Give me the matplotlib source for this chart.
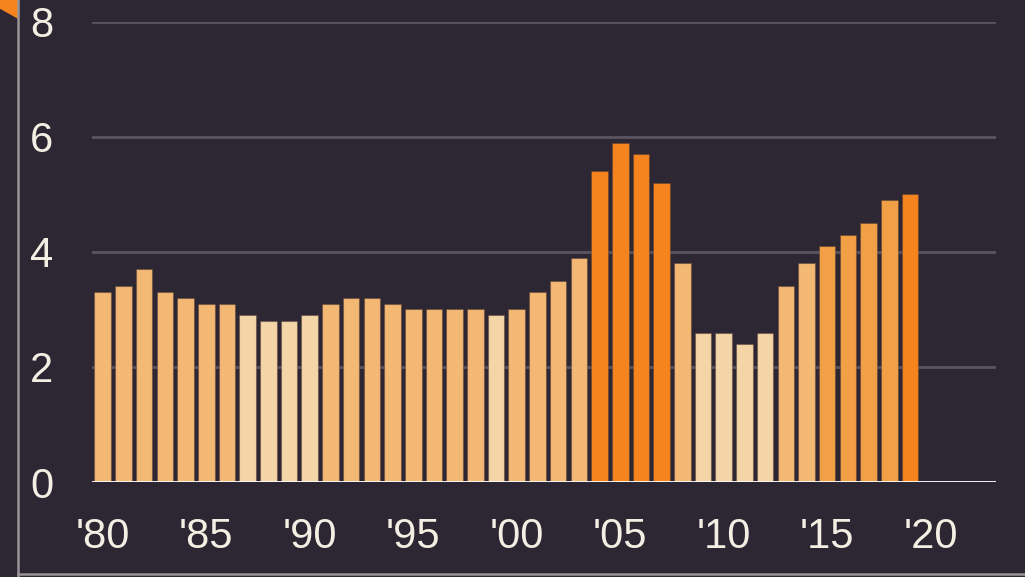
import numpy as np
import matplotlib
matplotlib.use('Agg')
import matplotlib.pyplot as plt
from matplotlib import font_manager
from matplotlib.patches import Polygon
from matplotlib.lines import Line2D

# === Données ===
years = list(range(1980, 2020))
values = [3.3, 3.4, 3.7, 3.3, 3.2, 3.1, 3.1, 2.9, 2.8, 2.8,
          2.9, 3.1, 3.2, 3.2, 3.1, 3.0, 3.0, 3.0, 3.0, 2.9,
          3.0, 3.3, 3.5, 3.9, 5.4, 5.9, 5.7, 5.2, 3.8, 2.6,
          2.6, 2.4, 2.6, 3.4, 3.8, 4.1, 4.3, 4.5, 4.9, 5.0]
tick_years = [1980, 1985, 1990, 1995, 2000, 2005, 2010, 2015, 2020]
tick_labels = ["'80", "'85", "'90", "'95", "'00", "'05", "'10", "'15", "'20"]
y_ticks = [0, 2, 4, 6, 8]

# === Style ===
bg = '#2d2633'
txt = '#f4efe3'
installed = {f.name for f in font_manager.fontManager.ttflist}
font = 'Liberation Sans Narrow' if 'Liberation Sans Narrow' in installed else 'Liberation Sans'
plt.rcParams['font.family'] = [font, 'DejaVu Sans']


def bar_color(v):
    if v < 3:
        return '#f3d5a7'
    if v < 4:
        return '#f2b874'
    if v < 5:
        return '#f2a045'
    return '#f5841f'


colors = [bar_color(v) for v in values]

W, H = 1025, 577
fig = plt.figure(figsize=(W / 100, H / 100), dpi=100, facecolor=bg)
ax = fig.add_axes([92 / W, (H - 482) / H, (995.7 - 92) / W, (482 - 22) / H])
ax.set_facecolor(bg)

ax.bar(years, values, width=0.8, color=colors, edgecolor=(0.35, 0.25, 0.2, 0.45),
       linewidth=0.8, zorder=3)

ax.set_xlim(1979.48, 2023.14)
ax.set_ylim(0, 8)
ax.set_yticks(y_ticks)
ax.set_yticklabels([str(t) for t in y_ticks])
ax.set_xticks(tick_years)
ax.set_xticklabels(tick_labels)
ax.tick_params(axis='both', length=0, labelsize=30, colors=txt)
ax.tick_params(axis='y', pad=28)
ax.tick_params(axis='x', pad=25)
for s in ax.spines.values():
    s.set_visible(False)
ax.yaxis.grid(True, color='#5a5360', linewidth=2, zorder=0)
ax.axhline(0, color='white', linewidth=2, zorder=4)

# === Cadre et triangle ===
fig.add_artist(Line2D([18 / W, 18 / W], [0, 1], color='#9a9496', linewidth=1.8,
                      transform=fig.transFigure))
fig.add_artist(Line2D([18 / W, 1], [3 / H, 3 / H], color='#9a9496', linewidth=1.8,
                      transform=fig.transFigure))
fig.add_artist(Polygon([[0, 1], [18 / W, 1], [18 / W, (H - 18) / H], [0, (H - 8) / H]],
                       closed=True, color='#f5841f', transform=fig.transFigure))

fig.savefig('out.png', dpi=100, facecolor=bg)
